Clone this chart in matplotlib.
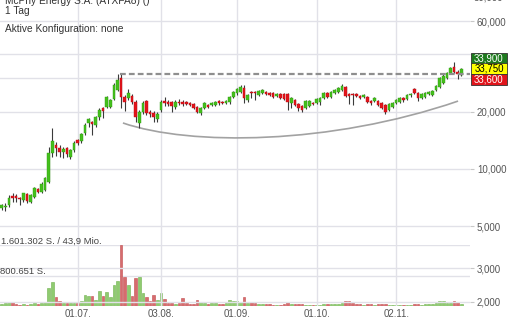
import numpy as np
import pandas as pd
import matplotlib
matplotlib.use('Agg')
import matplotlib.pyplot as plt
from matplotlib.patches import Rectangle, PathPatch
from matplotlib.path import Path
from matplotlib.ticker import FixedLocator, FuncFormatter, NullLocator

plt.rcParams['font.family'] = ['Liberation Sans', 'DejaVu Sans']

# trading days shown (one candle per day)
days = pd.bdate_range('2020-06-02', '2020-11-26')

opens = [
    6.2, 6.3, 6.45, 7.2, 7.2, 7.0, 6.85, 7.4, 6.7, 7.1,
    7.8, 7.55, 7.75, 8.5, 12.1, 13.35, 12.9, 12.25, 12.9, 11.55,
    12.55, 14.2, 14.0, 15.4, 17.4, 17.65, 17.0, 18.75, 20.9, 21.15,
    21.15, 23.3, 26.0, 30.1, 23.9, 23.6, 24.15, 22.5, 17.4, 19.9,
    22.75, 19.9, 19.7, 18.3, 20.4, 22.75, 22.5, 22.5, 21.15, 22.5,
    22.5, 22.4, 22.2, 21.9, 21.15, 19.7, 20.9, 21.7, 21.7, 21.7,
    22.75, 22.5, 22.2, 22.5, 23.9, 25.05, 25.4, 26.6, 23.0, 25.4,
    25.4, 24.45, 25.05, 25.4, 25.05, 25.05, 24.15, 24.75, 24.75, 24.75,
    22.2, 23.0, 21.9, 21.4, 20.9, 21.4, 22.2, 22.2, 22.5, 23.6,
    25.05, 23.9, 25.05, 25.4, 26.0, 26.95, 24.75, 24.75, 24.75, 24.15,
    23.9, 23.9, 22.75, 22.75, 22.75, 22.2, 21.7, 20.4, 21.15, 22.2,
    22.5, 23.6, 23.3, 24.45, 26.3, 25.05, 23.6, 23.9, 24.75, 24.45,
    26.0, 26.95, 28.3, 30.1, 31.95, 34.4, 32.3, 31.2,
]
closes = [
    6.45, 6.4, 7.0, 7.0, 7.05, 6.95, 7.45, 6.8, 7.3, 7.9,
    7.55, 8.3, 8.95, 12.1, 14.0, 12.9, 12.25, 12.7, 11.97, 12.55,
    13.7, 13.7, 15.25, 17.0, 18.3, 17.2, 18.75, 20.4, 20.15, 23.9,
    23.0, 27.6, 29.3, 23.9, 22.5, 25.05, 22.5, 18.75, 19.9, 22.2,
    19.7, 19.45, 18.75, 19.45, 22.5, 22.2, 21.9, 21.4, 22.5, 22.2,
    21.9, 21.95, 21.7, 20.9, 19.9, 20.9, 22.2, 21.15, 22.2, 22.5,
    22.2, 22.2, 22.75, 23.9, 25.4, 26.3, 26.95, 23.6, 24.45, 25.05,
    25.1, 25.7, 26.0, 24.75, 24.45, 23.9, 24.75, 23.6, 23.3, 22.5,
    23.6, 21.7, 20.9, 20.4, 22.75, 22.75, 21.9, 23.3, 23.6, 25.05,
    23.9, 25.4, 26.0, 26.6, 27.3, 24.15, 24.15, 24.45, 24.15, 23.6,
    24.45, 22.5, 22.2, 23.6, 21.7, 20.9, 19.9, 21.9, 22.2, 23.0,
    23.6, 23.0, 24.45, 24.75, 25.05, 23.6, 24.75, 25.05, 25.4, 25.7,
    27.3, 30.1, 30.8, 31.95, 33.95, 32.3, 31.6, 33.75,
]
highs = [
    6.5, 6.6, 7.3, 7.45, 7.4, 7.1, 7.5, 7.45, 7.35, 8.0,
    7.9, 8.5, 9.06, 13.0, 16.4, 13.85, 13.35, 13.0, 13.0, 12.7,
    14.0, 14.35, 15.4, 17.4, 18.5, 17.85, 18.95, 20.9, 21.15, 24.15,
    23.3, 28.3, 31.6, 31.9, 24.45, 26.3, 24.75, 23.0, 20.4, 22.75,
    23.0, 20.4, 20.15, 19.9, 23.0, 23.9, 23.0, 22.75, 23.0, 23.3,
    23.0, 22.75, 22.5, 22.2, 21.4, 21.15, 22.5, 21.9, 22.5, 22.75,
    23.0, 22.75, 23.0, 24.15, 25.7, 26.6, 27.6, 27.6, 24.75, 25.7,
    25.7, 26.0, 26.3, 25.7, 25.4, 25.4, 25.05, 25.05, 25.05, 25.05,
    23.9, 23.3, 22.2, 21.7, 23.0, 23.0, 22.5, 23.6, 23.9, 25.4,
    25.4, 25.7, 26.3, 26.95, 27.95, 27.3, 25.05, 25.05, 25.05, 24.45,
    24.75, 24.15, 23.0, 23.9, 23.0, 22.5, 21.9, 22.2, 22.5, 23.3,
    23.9, 23.9, 24.75, 25.05, 26.6, 25.4, 25.05, 25.4, 25.7, 26.0,
    27.6, 30.4, 31.95, 32.3, 34.4, 36.5, 33.1, 33.9,
]
lows = [
    6.07, 6.0, 6.3, 6.7, 6.7, 6.45, 6.7, 6.6, 6.6, 7.05,
    7.45, 7.5, 7.65, 8.4, 11.55, 11.7, 11.55, 11.4, 11.55, 11.3,
    12.25, 13.35, 13.7, 15.07, 16.6, 15.07, 16.6, 18.1, 18.5, 20.9,
    20.9, 23.0, 25.7, 20.9, 20.15, 23.0, 21.9, 17.65, 16.4, 19.45,
    19.2, 18.75, 17.65, 17.65, 19.9, 21.4, 21.4, 19.9, 20.65, 21.7,
    21.4, 21.6, 21.4, 20.65, 19.7, 19.2, 20.65, 20.9, 21.4, 21.4,
    21.7, 21.9, 21.9, 21.9, 23.6, 24.45, 25.05, 22.2, 22.5, 23.6,
    23.0, 24.15, 24.75, 24.45, 24.15, 23.6, 23.9, 23.3, 23.0, 20.4,
    20.9, 21.4, 20.15, 19.9, 20.65, 21.15, 21.7, 21.9, 21.7, 23.3,
    23.6, 23.6, 24.75, 25.05, 25.7, 23.9, 21.9, 21.7, 23.9, 23.3,
    23.6, 22.2, 21.7, 22.5, 21.4, 20.65, 19.45, 20.15, 20.9, 21.9,
    22.2, 22.5, 23.0, 23.9, 24.75, 22.75, 23.3, 23.6, 24.45, 24.15,
    25.7, 26.6, 27.95, 29.7, 31.6, 32.0, 29.7, 31.0,
]
volumes = [
    52000, 70000, 115000, 95000, 50000, 35000, 50000, 35000, 45000, 70000,
    50000, 87000, 95000, 463000, 620000, 227000, 140000, 87000, 70000, 80000,
    80000, 80000, 122000, 288000, 270000, 270000, 157000, 393000, 253000, 375000,
    245000, 550000, 664000, 1601302, 751000, 550000, 270000, 725000, 769000, 349000,
    245000, 140000, 288000, 157000, 332000, 175000, 87000, 70000, 50000, 70000,
    200000, 70000, 52000, 52000, 150000, 115000, 70000, 52000, 70000, 87000,
    52000, 52000, 70000, 150000, 130000, 122000, 115000, 227000, 70000, 115000,
    70000, 60000, 45000, 40000, 40000, 35000, 30000, 30000, 40000, 100000,
    50000, 55000, 45000, 40000, 30000, 25000, 30000, 35000, 30000, 40000,
    45000, 50000, 45000, 60000, 80000, 120000, 125000, 90000, 45000, 40000,
    30000, 55000, 45000, 30000, 60000, 55000, 45000, 30000, 25000, 20000,
    25000, 20000, 30000, 35000, 50000, 45000, 35000, 50000, 40000, 55000,
    70000, 125000, 120000, 90000, 80000, 140000, 95000, 45000,
]

tick_dates = ['2020-07-01', '2020-08-03', '2020-09-01', '2020-10-01', '2020-11-02']
tick_labels = ['01.07.', '03.08.', '01.09.', '01.10.', '02.11.']
price_ticks = [2, 3, 5, 10, 20, 30, 40, 60]
hidden_price_labels = [30, 40]  # covered by the quote boxes

resistance_level = 31.4
resistance_from = 32.7
# rounded support line: start, two control points, end (day index, price)
support_idx = [33.5, 52.0, 90.7, 126.1]
support_val = [17.45, 13.2, 13.35, 22.75]

quote_values = [33.9, 33.75, 33.6]
turnover_text = '43,9 Mio.'

GREEN = '#44c01c'
RED = '#e3141b'
GRID = '#e1e1e8'


def fmt_price(v, pos=None):
    return f'{v:.3f}'.replace('.', ',')


def fmt_axis(v, pos=None):
    if any(abs(v - h) < 1e-9 for h in hidden_price_labels):
        return ''
    return fmt_price(v)


def fmt_shares(v):
    return f'{int(round(v)):,}'.replace(',', '.') + ' S.'


W, H = 510, 320
fig = plt.figure(figsize=(W / 100, H / 100), dpi=100)
fig.patch.set_facecolor('white')

ax_left, ax_bottom, ax_w, ax_h = 0, 14, 470, 306
vax = fig.add_axes([ax_left / W, ax_bottom / H, ax_w / W, 61 / H])
ax = fig.add_axes([ax_left / W, ax_bottom / H, ax_w / W, ax_h / H])
vax.set_zorder(0)
ax.set_zorder(1)
ax.patch.set_visible(False)

x = np.arange(len(days))
o = np.array(opens)
c = np.array(closes)
up = c >= o
xlim = (-0.47, 129.4)

# volume panel
vmax = max(volumes)
vcol = np.where(up, '#8fcb70', '#d66c6e')
vedge = np.where(up, '#6fb04c', '#c24a4c')
vax.bar(x, volumes, width=0.72, color=vcol, edgecolor=vedge, linewidth=0.4)
vax.set_xlim(*xlim)
vax.set_ylim(0, vmax)
for lvl in (vmax, vmax / 2):
    vax.axhline(lvl, color=GRID, lw=1, zorder=0)
vax.axis('off')
fig.text(1 / W, 1 - 241 / H, fmt_shares(vmax) + ' / ' + turnover_text,
         fontsize=6.8, color='#444444', va='center', ha='left')
fig.text(0 / W, 1 - 272 / H, fmt_shares(vmax / 2),
         fontsize=6.8, color='#444444', va='center', ha='left')

# candles
ax.set_yscale('log')
ax.set_ylim(1.90, 77.4)
ax.set_xlim(*xlim)
ax.vlines(x, lows, highs, color='#3a3a3a', lw=0.8, zorder=3)
bottoms = np.minimum(o, c)
tops = np.maximum(np.maximum(o, c), bottoms * 1.012)
ax.bar(x, tops - bottoms, bottom=bottoms, width=0.72,
       color=np.where(up, GREEN, RED), edgecolor=np.where(up, '#2f9a10', '#b80c12'),
       linewidth=0.3, zorder=4)

# drawn lines
ax.plot([resistance_from, xlim[1]], [resistance_level, resistance_level],
        color='#8e8e8e', lw=1.6, dashes=(2.6, 1.4), zorder=5)
curve = Path(list(zip(support_idx, support_val)),
             [Path.MOVETO, Path.CURVE4, Path.CURVE4, Path.CURVE4])
ax.add_patch(PathPatch(curve, facecolor='none', edgecolor='#a2a2a2', lw=1.2, zorder=2))

# axes styling
ax.yaxis.set_major_locator(FixedLocator(price_ticks))
ax.yaxis.set_minor_locator(NullLocator())
ax.yaxis.set_major_formatter(FuncFormatter(fmt_axis))
ax.yaxis.tick_right()
ax.tick_params(axis='y', length=3, color='#c8c8c8', pad=2, labelsize=7,
               labelcolor='#555555')
tick_pos = [days.get_loc(pd.Timestamp(d)) for d in tick_dates]
ax.set_xticks(tick_pos)
ax.set_xticklabels(tick_labels)
ax.tick_params(axis='x', length=0, pad=2.5, labelsize=7, labelcolor='#555555')
ax.grid(True, color=GRID, lw=1, zorder=0)
ax.set_axisbelow(True)
for s in ax.spines.values():
    s.set_visible(False)

# cut-off top label
fig.text(474 / W, 1 - (-3) / H, fmt_price(80), fontsize=7, color='#555555',
         va='center', ha='left')

# quote boxes
box_cols = ['#1e7b1e', '#ffff00', '#e0141b']
txt_cols = ['white', 'black', 'white']
box_tops = [53, 63.5, 74]
for val, bc, tc, bt in zip(quote_values, box_cols, txt_cols, box_tops):
    fig.add_artist(Rectangle((471 / W, 1 - (bt + 10.5) / H), 36 / W, 10.5 / H,
                             transform=fig.transFigure, facecolor=bc,
                             edgecolor='#333333', lw=0.6, zorder=10))
    t = fig.text(489 / W, 1 - (bt + 5.3) / H, fmt_price(val), fontsize=7,
                 color=tc, ha='center', va='center')
    t.set_zorder(11)

# header
fig.text(5 / W, 1 - 1 / H, 'McPhy Energy S.A. (ATXFA8) ()', fontsize=7.3,
         color='#333333', va='center', ha='left')
fig.text(5 / W, 1 - 10.5 / H, '1 Tag', fontsize=7.3, color='#333333',
         va='center', ha='left')
fig.text(5 / W, 1 - 29 / H, 'Aktive Konfiguration: none', fontsize=7.3,
         color='#333333', va='center', ha='left')

fig.savefig('out.png', dpi=100, facecolor='white')
